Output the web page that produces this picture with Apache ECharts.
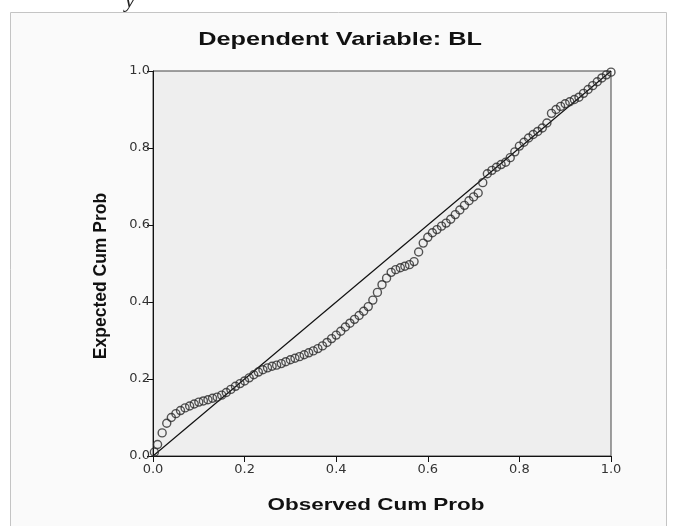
<!DOCTYPE html>
<html>
<head>
<meta charset="utf-8">
<script src="https://cdn.jsdelivr.net/npm/echarts@6/dist/echarts.min.js"></script>
<style>
html,body{margin:0;padding:0;background:#fff;}
#c{width:677px;height:526px;}
</style>
</head>
<body>
<div id="c"></div>
<script>
const titleText = "Dependent Variable: BL";
const xName = "Observed Cum Prob";
const yName = "Expected Cum Prob";
const tickValues = [0.0, 0.2, 0.4, 0.6, 0.8, 1.0];
const refLine = [[0, 0], [1, 1]];
const obsProb = [
  0.003, 0.01, 0.02, 0.03, 0.04, 0.05, 0.06, 0.07, 0.08, 0.09, 0.10,
  0.11, 0.12, 0.13, 0.14, 0.15, 0.16, 0.17, 0.18, 0.19, 0.20,
  0.21, 0.22, 0.23, 0.24, 0.25, 0.26, 0.27, 0.28, 0.29, 0.30,
  0.31, 0.32, 0.33, 0.34, 0.35, 0.36, 0.37, 0.38, 0.39, 0.40,
  0.41, 0.42, 0.43, 0.44, 0.45, 0.46, 0.47, 0.48, 0.49, 0.50,
  0.51, 0.52, 0.53, 0.54, 0.55, 0.56, 0.57, 0.58, 0.59, 0.60,
  0.61, 0.62, 0.63, 0.64, 0.65, 0.66, 0.67, 0.68, 0.69, 0.70,
  0.71, 0.72, 0.73, 0.74, 0.75, 0.76, 0.77, 0.78, 0.79, 0.80,
  0.81, 0.82, 0.83, 0.84, 0.85, 0.86, 0.87, 0.88, 0.89, 0.90,
  0.91, 0.92, 0.93, 0.94, 0.95, 0.96, 0.97, 0.98, 0.99, 1.00
];
const expProb = [
  0.01, 0.03, 0.06, 0.085, 0.10, 0.11, 0.118, 0.125, 0.13, 0.135, 0.14,
  0.143, 0.146, 0.15, 0.153, 0.158, 0.165, 0.173, 0.181, 0.188, 0.195,
  0.203, 0.211, 0.218, 0.224, 0.229, 0.233, 0.236, 0.240, 0.245, 0.25,
  0.254, 0.258, 0.263, 0.268, 0.273, 0.279, 0.286, 0.295, 0.305, 0.314,
  0.324, 0.335, 0.345, 0.355, 0.365, 0.376, 0.388, 0.405, 0.425, 0.445,
  0.462, 0.477, 0.484, 0.489, 0.493, 0.497, 0.505, 0.530, 0.553, 0.568,
  0.580, 0.588, 0.597, 0.605, 0.615, 0.627, 0.639, 0.651, 0.663, 0.673,
  0.683, 0.71, 0.733, 0.742, 0.750, 0.757, 0.763, 0.775, 0.790, 0.805,
  0.815, 0.826, 0.835, 0.843, 0.852, 0.865, 0.890, 0.900, 0.908, 0.915,
  0.920, 0.926, 0.932, 0.942, 0.952, 0.962, 0.972, 0.982, 0.990, 0.997
];

const points = obsProb.map((x, i) => [x, expProb[i]]);
const chart = echarts.init(document.getElementById('c'), null, {renderer: 'canvas'});
const axisCommon = {
  type: 'value', min: 0, max: 1, interval: 0.2,
  axisLine: {show: true, lineStyle: {color: '#111', width: 1}},
  axisTick: {show: true, length: 6, lineStyle: {color: '#111'}},
  axisLabel: {
    fontFamily: 'DejaVu Sans', fontSize: 13, color: '#333',
    formatter: v => tickValues.indexOf(Math.round(v * 10) / 10) >= 0 ? v.toFixed(1) : ''
  },
  splitLine: {show: false}
};
chart.setOption({
  backgroundColor: '#ffffff',
  animation: false,
  grid: {
    left: 153, top: 71, width: 458, height: 385,
    show: true, backgroundColor: '#eeeeee', borderColor: '#444', borderWidth: 1
  },
  xAxis: Object.assign({}, axisCommon, {axisLabel: Object.assign({}, axisCommon.axisLabel, {margin: 7})}),
  yAxis: Object.assign({}, axisCommon, {axisLabel: Object.assign({}, axisCommon.axisLabel, {margin: 3})}),
  graphic: [
    {type: 'rect', left: 10, top: 12, shape: {width: 656, height: 520}, style: {fill: '#fafafa', stroke: '#c4c4c4', lineWidth: 1}, z: -10, silent: true},
    {type: 'text', x: 125, y: -10, style: {text: 'y', font: 'italic 22px "Liberation Serif"', fill: '#222'}},
    {type: 'text', x: 340, y: 40, scaleX: 1.33, style: {text: titleText, font: 'bold 19px "Liberation Sans", Arial', fill: '#111', align: 'center', verticalAlign: 'middle'}},
    {type: 'text', x: 376, y: 505, scaleX: 1.32, style: {text: xName, font: 'bold 17px "Liberation Sans", Arial', fill: '#111', align: 'center', verticalAlign: 'middle'}},
    {type: 'text', x: 101, y: 276, rotation: Math.PI / 2, style: {text: yName, font: 'bold 17.5px "Liberation Sans", Arial', fill: '#111', align: 'center', verticalAlign: 'middle'}}
  ],
  series: [
    {
      type: 'line', data: refLine, showSymbol: false, symbol: 'none',
      lineStyle: {color: '#111', width: 1.2}, z: 2, silent: true
    },
    {
      type: 'scatter', data: points, symbol: 'circle', symbolSize: 8,
      itemStyle: {color: 'rgba(0,0,0,0)', borderColor: '#2a2a2a', borderWidth: 1.4}, z: 3
    }
  ]
});
</script>
</body>
</html>
